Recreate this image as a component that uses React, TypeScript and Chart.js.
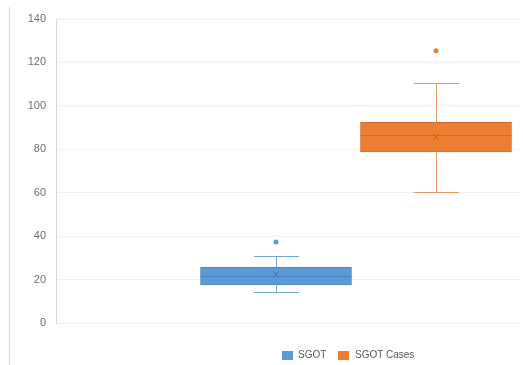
import React, { useEffect, useRef } from "react";
import { Chart, registerables } from "chart.js";

Chart.register(...registerables);

// Box-and-whisker summaries per series
const categories = ["SGOT", "SGOT Cases"];
const whiskerLow = [14.4, 60.2];
const quartile1 = [17.5, 78.8];
const medians = [21.7, 86.8];
const quartile3 = [25.6, 92.4];
const whiskerHigh = [30.7, 110.5];
const means = [22.4, 85.8];
const outliers = [[37.3], [125.4]];

const yTicks = [0, 20, 40, 60, 80, 100, 120, 140];

const fills = ["#5b9bd5", "#ed7d31"];
const edges = ["#4a86c3", "#d66c26"];
const whiskerColors = ["#6fa6da", "#eb9a63"];
const markColors = ["#3d72aa", "#c05d1c"];

// Whiskers, caps and median line drawn around each bar (box) element
const boxPlugin = {
  id: "boxWhiskers",
  afterDatasetDraw(chart: any, args: any) {
    const meta = args.meta;
    if (meta.type !== "bar") return;
    const i = meta.index;
    const el = meta.data[0];
    if (!el) return;
    const y = chart.scales.y;
    const ctx = chart.ctx;
    const half = el.width / 2;
    const cap = el.width * 0.15;
    const cx = Math.round(el.x) + 0.5;
    const py = (v: number) => Math.round(y.getPixelForValue(v)) + 0.5;
    ctx.save();
    ctx.lineWidth = 1;
    ctx.strokeStyle = whiskerColors[i];
    ctx.beginPath();
    ctx.moveTo(cx, py(quartile3[i]));
    ctx.lineTo(cx, py(whiskerHigh[i]));
    ctx.moveTo(cx - cap, py(whiskerHigh[i]));
    ctx.lineTo(cx + cap, py(whiskerHigh[i]));
    ctx.moveTo(cx, py(quartile1[i]));
    ctx.lineTo(cx, py(whiskerLow[i]));
    ctx.moveTo(cx - cap, py(whiskerLow[i]));
    ctx.lineTo(cx + cap, py(whiskerLow[i]));
    ctx.stroke();
    ctx.strokeStyle = edges[i];
    ctx.beginPath();
    ctx.moveTo(el.x - half, py(medians[i]));
    ctx.lineTo(el.x + half, py(medians[i]));
    ctx.stroke();
    ctx.restore();
  },
};

export default function App() {
  const ref = useRef<HTMLCanvasElement | null>(null);

  useEffect(() => {
    if (!ref.current) return;
    const boxSets = categories.map((name, i) => ({
      type: "bar" as const,
      label: name,
      data: [{ x: i + 1, y: [quartile1[i], quartile3[i]] }],
      backgroundColor: fills[i],
      borderColor: edges[i],
      borderWidth: 1,
      borderSkipped: false,
      barThickness: 151,
      grouped: false,
      order: 3,
    }));
    const meanSets = categories.map((name, i) => ({
      type: "scatter" as const,
      label: name + " mean",
      data: [{ x: i + 1, y: means[i] }],
      pointStyle: "crossRot",
      radius: 4,
      borderWidth: 1,
      borderColor: markColors[i],
      backgroundColor: markColors[i],
      order: 1,
    }));
    const outlierSets = categories.map((name, i) => ({
      type: "scatter" as const,
      label: name + " outliers",
      data: outliers[i].map((v) => ({ x: i + 1, y: v })),
      pointStyle: "circle",
      radius: 2.5,
      borderWidth: 0,
      backgroundColor: fills[i],
      order: 1,
    }));

    const chart = new Chart(ref.current, {
      type: "bar",
      data: { datasets: [...boxSets, ...meanSets, ...outlierSets] as any },
      options: {
        animation: false,
        responsive: false,
        devicePixelRatio: 1,
        layout: { autoPadding: false, padding: { left: 0, right: 3, top: 19, bottom: 42 } },
        plugins: {
          legend: { display: false },
          tooltip: { enabled: false },
        },
        scales: {
          x: {
            type: "linear",
            display: false,
            offset: false,
            min: -0.375,
            max: 2.525,
          },
          y: {
            min: 0,
            max: 140,
            afterBuildTicks: (scale: any) => {
              scale.ticks = yTicks.map((v) => ({ value: v }));
            },
            afterFit: (scale: any) => {
              scale.width = 56;
            },
            grid: { color: "#efefef", drawTicks: false, lineWidth: 1 },
            border: { display: true, color: "#d9d9d9" },
            ticks: {
              padding: 10,
              color: "#707070",
              font: { family: "'Liberation Sans', Arial, sans-serif", size: 11 },
            },
          },
        },
      },
      plugins: [boxPlugin],
    });
    return () => chart.destroy();
  }, []);

  const legendText: React.CSSProperties = {
    position: "absolute",
    top: 349,
    font: "10px 'Liberation Sans', Arial, sans-serif",
    color: "#595959",
    lineHeight: "12px",
    whiteSpace: "nowrap",
  };
  const swatch = (left: number, color: string): React.CSSProperties => ({
    position: "absolute",
    left,
    top: 351,
    width: 11,
    height: 9,
    background: color,
  });

  return (
    <div
      style={{
        position: "fixed",
        left: 0,
        top: 0,
        width: 523,
        height: 365,
        background: "#ffffff",
        overflow: "hidden",
      }}
    >
      <div
        style={{
          position: "absolute",
          left: 9,
          top: 7,
          width: 1,
          height: 358,
          background: "#dcdcdc",
        }}
      />
      <canvas ref={ref} width={523} height={365} style={{ position: "absolute", left: 0, top: 0 }} />
      <div style={swatch(282, fills[0])} />
      <div style={{ ...legendText, left: 298 }}>{categories[0]}</div>
      <div style={swatch(338, fills[1])} />
      <div style={{ ...legendText, left: 355 }}>{categories[1]}</div>
    </div>
  );
}
